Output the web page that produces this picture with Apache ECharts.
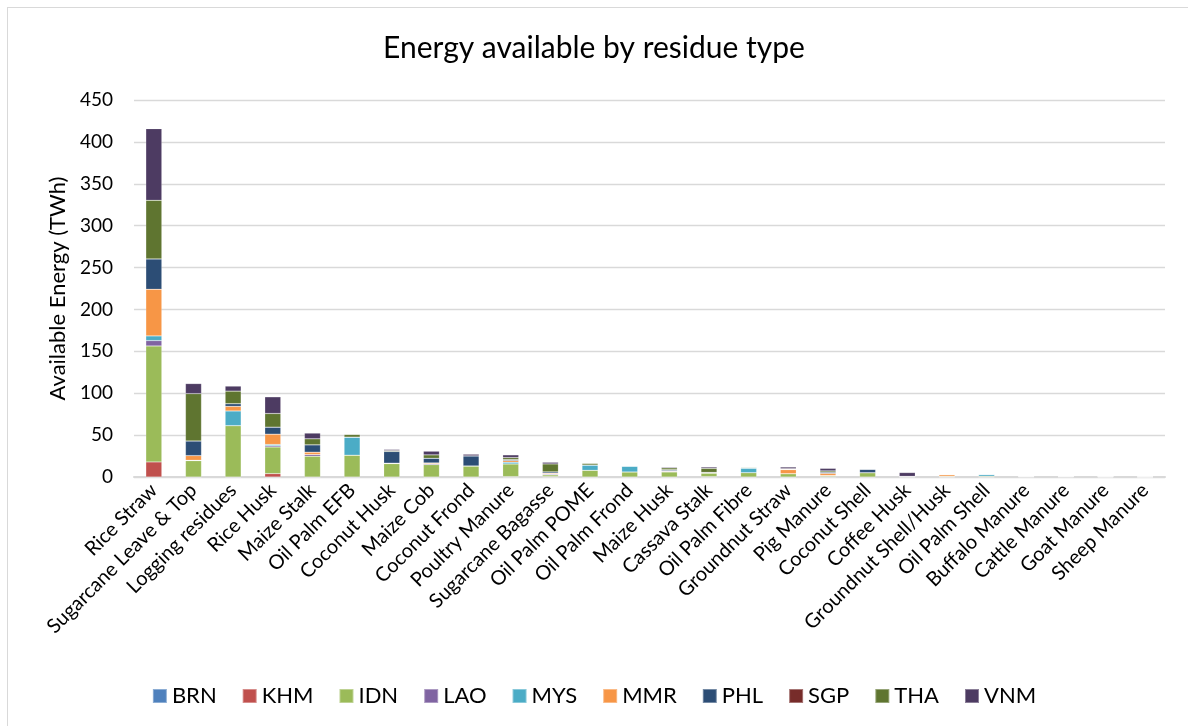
<!DOCTYPE html>
<html>
<head>
<meta charset="utf-8">
<script src="https://cdn.jsdelivr.net/npm/echarts@6/dist/echarts.min.js"></script>
<style>
  html, body { margin: 0; padding: 0; background: #fff; }
  #frame { position: absolute; left: 7px; top: 7px; width: 1190px; height: 730px; border: 1px solid #d9d9d9; box-sizing: border-box; }
  #chart { position: absolute; left: 0; top: 0; width: 1188px; height: 726px; }
</style>
</head>
<body>
<div id="frame"></div>
<div id="chart"></div>
<script>
// Residue types (x axis)
const categories = [
  'Rice Straw', 'Sugarcane Leave & Top', 'Logging residues', 'Rice Husk', 'Maize Stalk',
  'Oil Palm EFB', 'Coconut Husk', 'Maize Cob', 'Coconut Frond', 'Poultry Manure',
  'Sugarcane Bagasse', 'Oil Palm POME', 'Oil Palm Frond', 'Maize Husk', 'Cassava Stalk',
  'Oil Palm Fibre', 'Groundnut Straw', 'Pig Manure', 'Coconut Shell', 'Coffee Husk',
  'Groundnut Shell/Husk', 'Oil Palm Shell', 'Buffalo Manure', 'Cattle Manure', 'Goat Manure',
  'Sheep Manure'
];

// Available energy per country (TWh)
const BRN = [0, 0, 0, 0, 0, 0, 0, 0, 0, 0, 0, 0, 0, 0, 0, 0, 0, 0, 0, 0, 0, 0, 0, 0, 0, 0];
const KHM = [18, 0, 0, 4, 0, 0, 0, 0, 0, 0.5, 0.5, 0, 0, 0, 0.5, 0, 0, 0.5, 0, 0, 0, 0, 0.2, 0.2, 0, 0];
const IDN = [138.4, 19.5, 61.3, 31.8, 24.8, 26, 16, 14.8, 13.2, 15.1, 2, 8, 6, 6, 4, 5.2, 4, 1, 5.2, 0.5, 0.8, 1, 0.3, 0.3, 0.2, 0.1];
const LAO = [6.4, 0.5, 0, 1.5, 2, 0, 0.5, 1, 0, 0, 1, 0, 0, 0.8, 1, 0, 0, 0.3, 0, 0.3, 0, 0, 0.2, 0.1, 0, 0];
const MYS = [5.6, 0, 17.5, 1.5, 0, 21.6, 0, 0, 0, 2, 0, 6.3, 7, 0, 0, 5.5, 0, 0, 0, 0, 0, 2.2, 0, 0, 0, 0];
const MMR = [55.7, 5.5, 5.5, 12.3, 2.8, 0, 0, 1, 0, 2, 1, 0, 0, 0.7, 0, 0, 4.8, 2.5, 0, 0, 2, 0, 0.2, 0.2, 0.1, 0.1];
const PHL = [36.2, 17.5, 3.2, 8.4, 8.8, 0, 14, 5.6, 12, 1.2, 1.6, 0, 0, 1.2, 0, 0, 0.5, 1.5, 3.9, 0, 0, 0, 0, 0, 0, 0];
const SGP = [0, 0, 0, 0, 0, 0, 0, 0, 0, 0, 0, 0, 0, 0, 0, 0, 0, 0, 0, 0, 0, 0, 0, 0, 0, 0];
const THA = [70, 56.5, 15, 16.3, 7.2, 3.2, 1, 4, 0, 2.4, 9.5, 2, 0.5, 2.2, 4.8, 0.8, 0.6, 1.5, 0.6, 0, 0, 0, 0, 0, 0, 0];
const VNM = [85.5, 12, 6, 19.9, 6.8, 0, 1.4, 4.4, 2, 3.2, 2, 0, 0, 1, 1.6, 0, 2, 3, 0.6, 4.5, 0.4, 0, 0, 0, 0, 0];

const countries = ['BRN', 'KHM', 'IDN', 'LAO', 'MYS', 'MMR', 'PHL', 'SGP', 'THA', 'VNM'];
const values = [BRN, KHM, IDN, LAO, MYS, MMR, PHL, SGP, THA, VNM];
const colors = ['#4F81BD', '#C0504D', '#9BBB59', '#8064A2', '#4BACC6', '#F79646', '#2C4D75', '#772C2A', '#5F7530', '#4D3B62'];

const FONT = 'Lato, "Noto Sans", sans-serif';

const chart = echarts.init(document.getElementById('chart'), null, { renderer: 'canvas' });

chart.setOption({
  animation: false,
  backgroundColor: 'transparent',
  color: colors,
  title: {
    text: 'Energy available by residue type',
    left: 'center',
    top: 28,
    textStyle: { fontFamily: FONT, fontSize: 30, fontWeight: 'normal', color: '#000' }
  },
  grid: { left: 134, right: 23, top: 100, bottom: 249, containLabel: false },
  legend: {
    data: countries,
    left: 'center',
    top: 680,
    itemWidth: 14,
    itemHeight: 14,
    itemGap: 25,
    icon: 'rect',
    textStyle: { fontFamily: FONT, fontSize: 22, color: '#000' }
  },
  xAxis: {
    type: 'category',
    data: categories,
    axisTick: { show: false },
    axisLine: { lineStyle: { color: '#d9d9d9', width: 2 } },
    axisLabel: {
      interval: 0,
      rotate: 45,
      margin: 10,
      fontFamily: FONT,
      fontSize: 20,
      color: '#000'
    }
  },
  yAxis: {
    type: 'value',
    min: 0,
    max: 450,
    interval: 50,
    name: 'Available Energy (TWh)',
    nameLocation: 'middle',
    nameGap: 62,
    nameTextStyle: { fontFamily: FONT, fontSize: 22, color: '#000' },
    axisLine: { show: false },
    axisTick: { show: false },
    splitLine: { lineStyle: { color: '#d9d9d9', width: 1.3 } },
    axisLabel: { margin: 21, fontFamily: FONT, fontSize: 19, color: '#000' }
  },
  series: countries.map((name, i) => ({
    name: name,
    type: 'bar',
    stack: 'total',
    barWidth: 16,
    data: values[i],
    itemStyle: { color: colors[i], borderColor: 'rgba(255,255,255,0.35)', borderWidth: 0.5 }
  }))
});
</script>
</body>
</html>
